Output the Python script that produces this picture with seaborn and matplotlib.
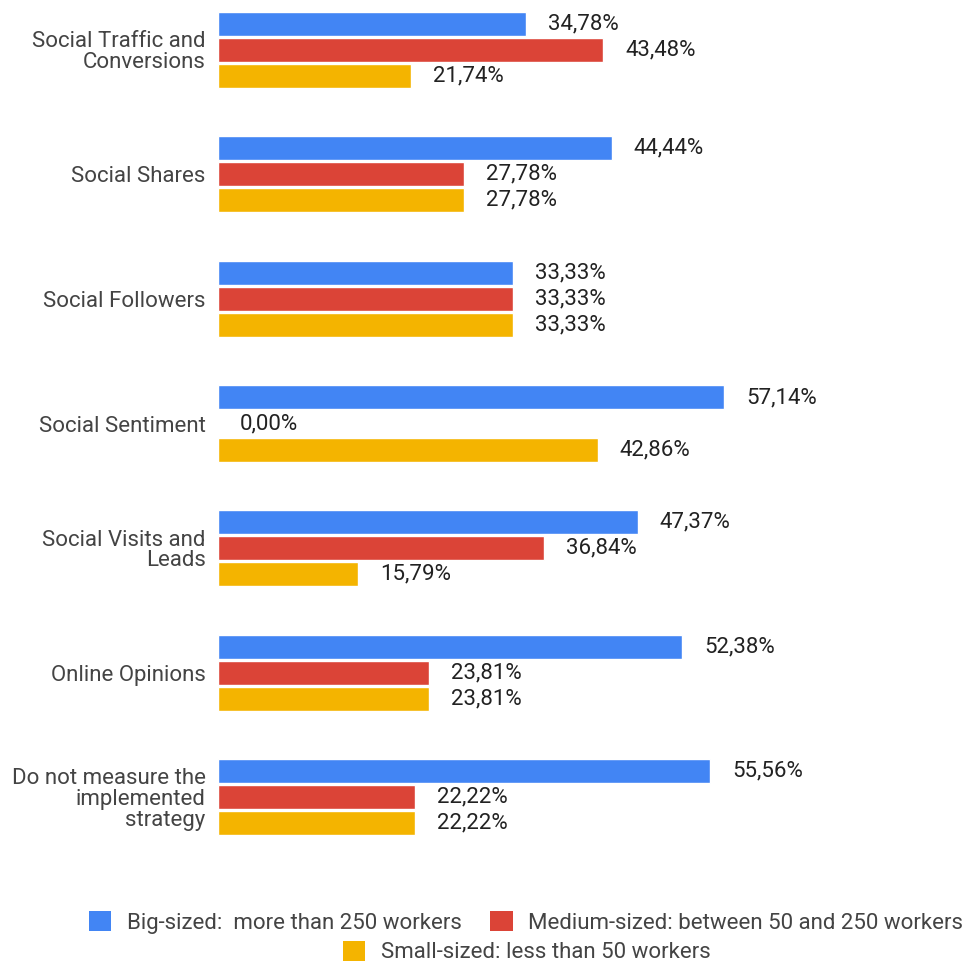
import matplotlib
matplotlib.use("Agg")
import matplotlib.pyplot as plt
from matplotlib.patches import Patch
import seaborn as sns
import pandas as pd

categories = [
    "Social Traffic and\nConversions",
    "Social Shares",
    "Social Followers",
    "Social Sentiment",
    "Social Visits and\nLeads",
    "Online Opinions",
    "Do not measure the\nimplemented\nstrategy",
]
series_names = [
    "Big-sized:  more than 250 workers",
    "Medium-sized: between 50 and 250 workers",
    "Small-sized: less than 50 workers",
]
big_sized = [34.78, 44.44, 33.33, 57.14, 47.37, 52.38, 55.56]
medium_sized = [43.48, 27.78, 33.33, 0.00, 36.84, 23.81, 22.22]
small_sized = [21.74, 27.78, 33.33, 42.86, 15.79, 23.81, 22.22]
colors = ["#4285F4", "#DB4437", "#F4B400"]

rows = []
for name, vals in zip(series_names, [big_sized, medium_sized, small_sized]):
    for cat, v in zip(categories, vals):
        rows.append({"category": cat, "size": name, "value": v})
df = pd.DataFrame(rows)

sns.set_theme(style="white")
plt.rcParams["font.family"] = ["Roboto", "DejaVu Sans"]

fig = plt.figure(figsize=(9.67, 9.65), dpi=100)
ax = fig.add_axes([218 / 967, 118 / 965, 742 / 967, 847 / 965])

sns.barplot(
    data=df, y="category", x="value", hue="size",
    order=categories, hue_order=series_names,
    palette=colors, orient="h", width=0.627, gap=0.077,
    saturation=1, legend=False, ax=ax,
)

for container in ax.containers:
    labels = [f"{b.get_width():.2f}%".replace(".", ",") for b in container]
    ax.bar_label(container, labels=labels, padding=16, fontsize=16,
                 color="#222222")

ax.set_xlim(0, 742 / 8.856)
ax.set_ylim(6.4, -0.4)
ax.set_xlabel("")
ax.set_ylabel("")
ax.set_xticks([])
ax.tick_params(axis="y", length=0, pad=9, labelsize=16, labelcolor="#444444")
for lbl in ax.get_yticklabels():
    lbl.set_multialignment("right")
    lbl.set_linespacing(0.98)
for s in ax.spines.values():
    s.set_visible(False)

handles = [Patch(facecolor=c, edgecolor="none") for c in colors]
leg_kw = dict(frameon=False, fontsize=16, handlelength=1.0, handleheight=1.0,
              handletextpad=0.7, columnspacing=1.3, labelcolor="#444444",
              loc="center")
fig.legend(handles[:2], series_names[:2], ncol=2,
           bbox_to_anchor=(0.544, 0.044), **leg_kw)
fig.legend(handles[2:], series_names[2:], ncol=1,
           bbox_to_anchor=(0.545, 0.0135), **leg_kw)

fig.savefig("out.png", dpi=100, facecolor="white")
